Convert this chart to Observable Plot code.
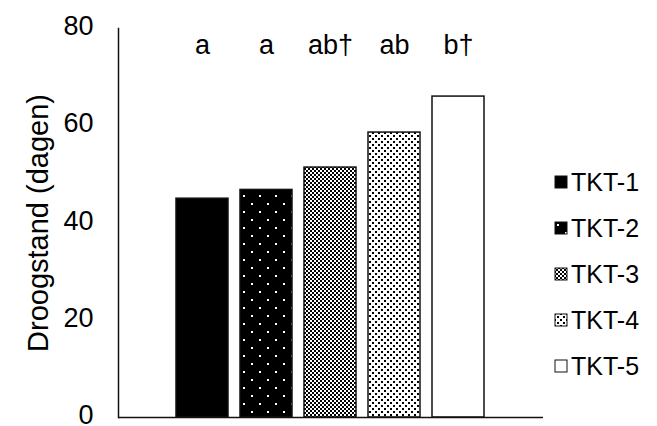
<!DOCTYPE html>
<html>
<head>
<meta charset="utf-8">
<script src="https://cdn.jsdelivr.net/npm/d3@7"></script>
<script src="https://cdn.jsdelivr.net/npm/@observablehq/plot@0.6"></script>
<style>
  html, body { margin: 0; padding: 0; background: #fff; }
  #wrap { position: relative; width: 657px; height: 426px; font-family: "Liberation Sans", Arial, sans-serif; }
  #legend { position: absolute; left: 554px; top: 159px; }
  .item { display: flex; align-items: center; height: 46px; font-size: 25px; color: #000; }
  .item svg { margin-right: 3px; }
</style>
</head>
<body>
<svg width="0" height="0" style="position:absolute">
  <defs>
    <pattern id="p2" patternUnits="userSpaceOnUse" width="16" height="16">
      <rect width="16" height="16" fill="#000"/>
      <rect x="3" y="3" width="2" height="2" fill="#fff"/>
      <rect x="11" y="11" width="2" height="2" fill="#fff"/>
    </pattern>
    <pattern id="p3" patternUnits="userSpaceOnUse" width="4" height="4">
      <rect width="4" height="4" fill="#fff"/>
      <rect x="0" y="0" width="2" height="2" fill="#000"/>
      <rect x="2" y="2" width="2" height="2" fill="#000"/>
    </pattern>
    <pattern id="p4" patternUnits="userSpaceOnUse" width="6" height="6">
      <rect width="6" height="6" fill="#fff"/>
      <rect x="0" y="0" width="2" height="2" fill="#000"/>
      <rect x="3" y="3" width="2" height="2" fill="#000"/>
    </pattern>
  </defs>
</svg>
<div id="wrap"><div id="legend"></div></div>
<script>
// ---- data ----
const series = ["TKT-1", "TKT-2", "TKT-3", "TKT-4", "TKT-5"];
const values = [45.0, 46.8, 51.4, 58.6, 66.0];
const letters = ["a", "a", "ab†", "ab", "b†"];
const yTicks = [0, 20, 40, 60, 80];
const yTitle = "Droogstand (dagen)";

// ---- styling (not data) ----
const fills = {"TKT-1": "#000", "TKT-2": "url(#p2)", "TKT-3": "url(#p3)", "TKT-4": "url(#p4)", "TKT-5": "#fff"};
const font = "Liberation Sans, Arial, sans-serif";

const table = series.map((s, i) => ({series: s, value: values[i], letter: letters[i]}));

const chart = Plot.plot({
  width: 657,
  height: 426,
  marginLeft: 118,
  marginRight: 114,
  marginTop: 28,
  marginBottom: 9,
  style: {fontFamily: font, background: "#fff", color: "#000"},
  x: {domain: series, paddingInner: 0.185, paddingOuter: 0.862, axis: null},
  y: {domain: [0, 80], axis: null},
  color: {type: "identity"},
  marks: [
    Plot.barY(table, {x: "series", y: "value", fill: d => fills[d.series], stroke: "#111", strokeWidth: 1.5}),
    Plot.axisY({ticks: yTicks, tickSize: 0, tickPadding: 25, fontSize: 27, dy: -2, label: null}),
    Plot.text([yTitle], {frameAnchor: "left", textAnchor: "middle", dx: -80, rotate: -90, fontSize: 29, text: d => d}),
    Plot.text(table, {x: "series", text: "letter", frameAnchor: "top", dy: 17, fontSize: 27, lineAnchor: "middle"}),
    Plot.ruleY([0], {stroke: "#111", strokeWidth: 1.5}),
    Plot.frame({anchor: "left", stroke: "#111", strokeWidth: 1.5})
  ]
});
document.getElementById("wrap").prepend(chart);

const legend = d3.select("#legend");
series.forEach(s => {
  const item = legend.append("div").attr("class", "item");
  const sv = item.append("svg").attr("width", 14).attr("height", 14);
  sv.append("rect").attr("x", 1).attr("y", 1).attr("width", 12).attr("height", 12)
    .attr("fill", fills[s]).attr("stroke", "#111").attr("stroke-width", 1);
  item.append("span").text(s);
});
</script>
</body>
</html>
